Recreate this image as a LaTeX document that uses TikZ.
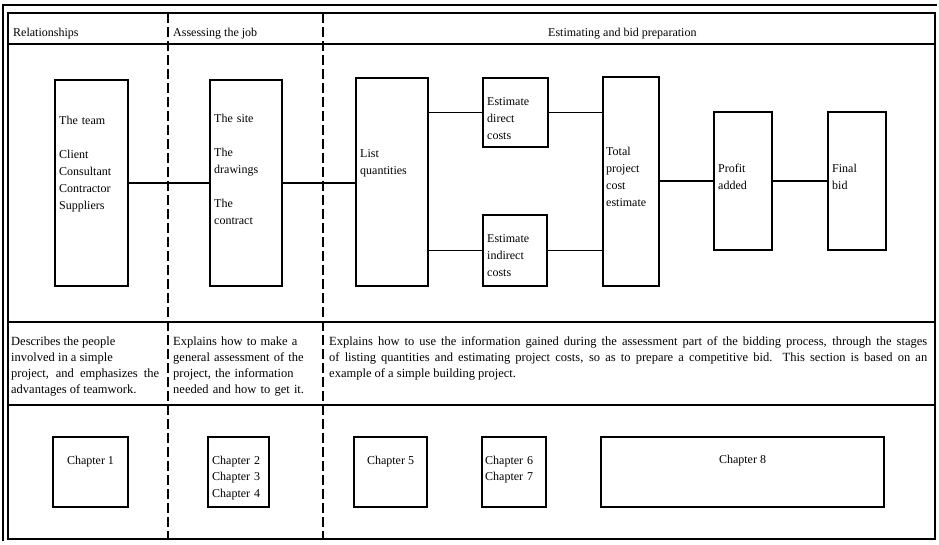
\documentclass[tikz,border=0pt]{standalone}
\usepackage{fontspec}
\setmainfont{Liberation Serif}
\begin{document}
\begin{tikzpicture}[x=1pt,y=-1pt,
  frame/.style={line width=1.9pt},
  sepline/.style={line width=1.8pt},
  dashline/.style={line width=1.5pt, dash pattern=on 10pt off 4pt},
  stage/.style={draw, line width=1.8pt, inner sep=0pt, outer sep=0pt, anchor=north west},
  conn/.style={line width=1.8pt},
  boxtxt/.style={inner sep=0pt, anchor=base west, align=left, text width=#1, font=\fontsize{12}{17}\selectfont},
  boxtxt/.default=70pt,
  desc/.style={inner sep=0pt, anchor=base west, align=justify, text width=#1, font=\fontsize{12.5}{16}\selectfont},
  hdr/.style={inner sep=0pt, anchor=base west, font=\fontsize{12}{15}\selectfont},
  chtxt/.style={inner sep=0pt, anchor=base, font=\fontsize{12}{16.5}\selectfont},
]
\useasboundingbox (0,0) rectangle (939,544);
% frame
\draw[frame] (3,541) -- (3,5) -- (937,5);
\draw[frame] (8,13) rectangle (935,539);
\draw[sepline] (8,44) -- (935,44);
\draw[sepline] (8,322) -- (935,322);
\draw[sepline] (8,405) -- (935,405);
\draw[dashline] (168,13) -- (168,539);
\draw[dashline] (323,13) -- (323,539);
% headers
\node[hdr] (h1) at (13,36) {Relationships};
\node[hdr] (h2) at (173,36) {Assessing the job};
\node[hdr] (h3) at (548,36) {Estimating and bid preparation};
% stage boxes
\node[stage, minimum width=73pt, minimum height=206pt] (team) at (55,80) {};
\node[stage, minimum width=72pt, minimum height=206pt] (site) at (210,80) {};
\node[stage, minimum width=72pt, minimum height=208pt] (list) at (356,78) {};
\node[stage, minimum width=65pt, minimum height=69pt] (direct) at (483,78) {};
\node[stage, minimum width=64pt, minimum height=71pt] (indirect) at (483,215) {};
\node[stage, minimum width=56pt, minimum height=209pt] (total) at (603,77) {};
\node[stage, minimum width=58pt, minimum height=138pt] (profit) at (714,112) {};
\node[stage, minimum width=58pt, minimum height=138pt] (final) at (828,112) {};
% stage texts
\node[boxtxt] (teamt) at (59,124) {The team\\[17pt]Client\\Consultant\\Contractor\\Suppliers};
\node[boxtxt] (sitet) at (214,122) {The site\\[17pt]The\\drawings\\[17pt]The\\contract};
\node[boxtxt] (listt) at (360,157) {List\\quantities};
\node[boxtxt=60pt] (directt) at (487,105) {Estimate\\direct\\costs};
\node[boxtxt=60pt] (indirectt) at (487,242) {Estimate\\indirect\\costs};
\node[boxtxt=55pt] (totalt) at (606,155) {Total\\project\\cost\\estimate};
\node[boxtxt=55pt] (profitt) at (718,172) {Profit\\added};
\node[boxtxt=55pt] (finalt) at (832,172) {Final\\bid};
% connectors
\draw[conn] (team.east) -- (team.east -| site.west);
\draw[conn] (site.east) -- (site.east -| list.west);
\draw[conn] (direct.west -| list.east) -- (direct.west);
\draw[conn] (indirect.west -| list.east) -- (indirect.west);
\draw[conn] (direct.east) -- (direct.east -| total.west);
\draw[conn] (indirect.east) -- (indirect.east -| total.west);
\draw[conn] (profit.west -| total.east) -- (profit.west);
\draw[conn] (profit.east) -- (final.west);
% descriptions
\node[desc=148pt] (d1) at (11,345) {Describes the people\\involved in a simple\\project, and emphasizes the\linebreak advantages of teamwork.};
\node[desc=148pt, align=left] (d2) at (173,345) {Explains how to make a\\general assessment of the\\project, the information\\needed and how to get it.};
\node[desc=598pt] (d3) at (329,345) {Explains how to use the information gained during the assessment part of the bidding process, through the stages\linebreak of listing quantities and estimating project costs, so as to prepare a competitive bid.\ \ This section is based on an\linebreak example of a simple building project.};
% chapter boxes
\node[stage, minimum width=75pt, minimum height=70pt] (ch1) at (53,437) {};
\node[stage, minimum width=61pt, minimum height=70pt] (ch2) at (208,437) {};
\node[stage, minimum width=73pt, minimum height=70pt] (ch5) at (354,437) {};
\node[stage, minimum width=64pt, minimum height=70pt] (ch6) at (482,437) {};
\node[stage, minimum width=283pt, minimum height=70pt] (ch8) at (601,437) {};
\node[chtxt] (ch1t) at (90.5,464) {Chapter 1};
\node[boxtxt=58pt, font=\fontsize{12}{16.5}\selectfont] (ch2t) at (212,464) {Chapter 2\\Chapter 3\\Chapter 4};
\node[chtxt] (ch5t) at (390.5,464) {Chapter 5};
\node[boxtxt=60pt, font=\fontsize{12}{16.5}\selectfont] (ch6t) at (485,464) {Chapter 6\\Chapter 7};
\node[chtxt] (ch8t) at (742.5,463) {Chapter 8};
\end{tikzpicture}
\end{document}
